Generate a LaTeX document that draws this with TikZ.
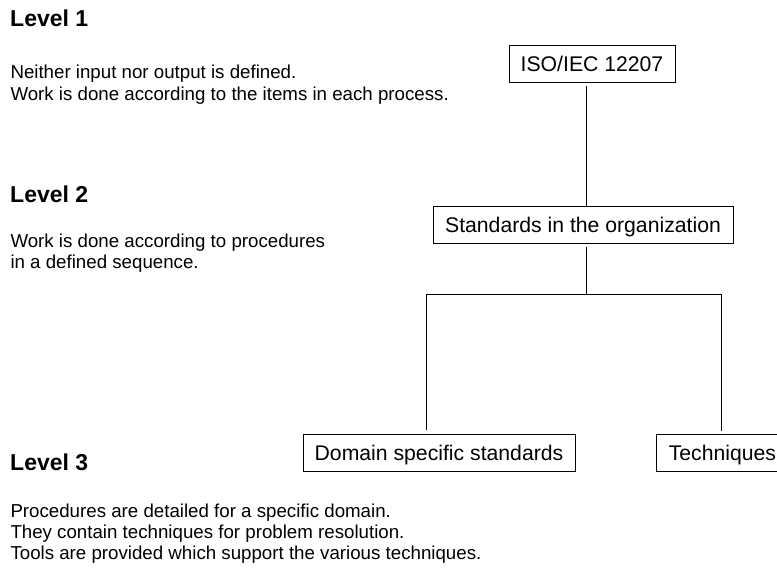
\documentclass[tikz,border=0pt]{standalone}
\usepackage{fontspec}
\setmainfont{Liberation Sans}
\begin{document}
\begin{tikzpicture}[x=1pt,y=-1pt,
  heading/.style={anchor=base west, inner sep=0pt, font=\fontsize{23}{27}\selectfont\bfseries},
  body/.style={anchor=base west, inner sep=0pt, font=\fontsize{18.7}{21.3}\selectfont},
  box/.style={draw, line width=0.8pt, font=\fontsize{21.2}{25}\selectfont, text height=15.2pt, text depth=0pt, inner xsep=11.6pt, inner ysep=0pt, minimum height=37pt},
  link/.style={line width=0.8pt}]
\clip (0,0) rectangle (777,572);
% left column texts
\node[heading] (l1) at (10,26.7) {Level 1};
\node[body] (l1a) at (10.3,79) {Neither input nor output is defined.};
\node[body] (l1b) at (10.3,100.5) {Work is done according to the items in each process.};
\node[heading] (l2) at (10,203) {Level 2};
\node[body] (l2a) at (10.3,247.6) {Work is done according to procedures};
\node[body] (l2b) at (10.3,268.8) {in a defined sequence.};
\node[heading] (l3) at (10,470.4) {Level 3};
\node[body] (l3a) at (10.3,517.6) {Procedures are detailed for a specific domain.};
\node[body] (l3b) at (10.3,538.6) {They contain techniques for problem resolution.};
\node[body] (l3c) at (10.3,559.6) {Tools are provided which support the various techniques.};
% boxes
\node[box, minimum width=164pt] (iso) at (592,64) {ISO/IEC 12207};
\node[box, minimum width=300pt] (std) at (583,224.5) {Standards in the organization};
\node[box, minimum width=272pt] (dom) at (439,452.5) {Domain specific standards};
\node[box, minimum width=133pt, anchor=west] (tech) at (655.5,452.5) {Techniques};
% junctions
\coordinate (tr) at (586,294);
\coordinate (jl) at (426,294);
\coordinate (jr) at (721,294);
% connectors
\draw[link, shorten <=3pt] (iso.south -| tr) -- (std.north -| tr);
\draw[link, shorten <=3.5pt] (std.south -| tr) -- (tr);
\draw[link] (jl) -- (jr);
\draw[link, shorten >=3.5pt] (jl) -- (jl |- dom.north);
\draw[link, shorten >=2.5pt] (jr) -- (jr |- tech.north);
\end{tikzpicture}
\end{document}
